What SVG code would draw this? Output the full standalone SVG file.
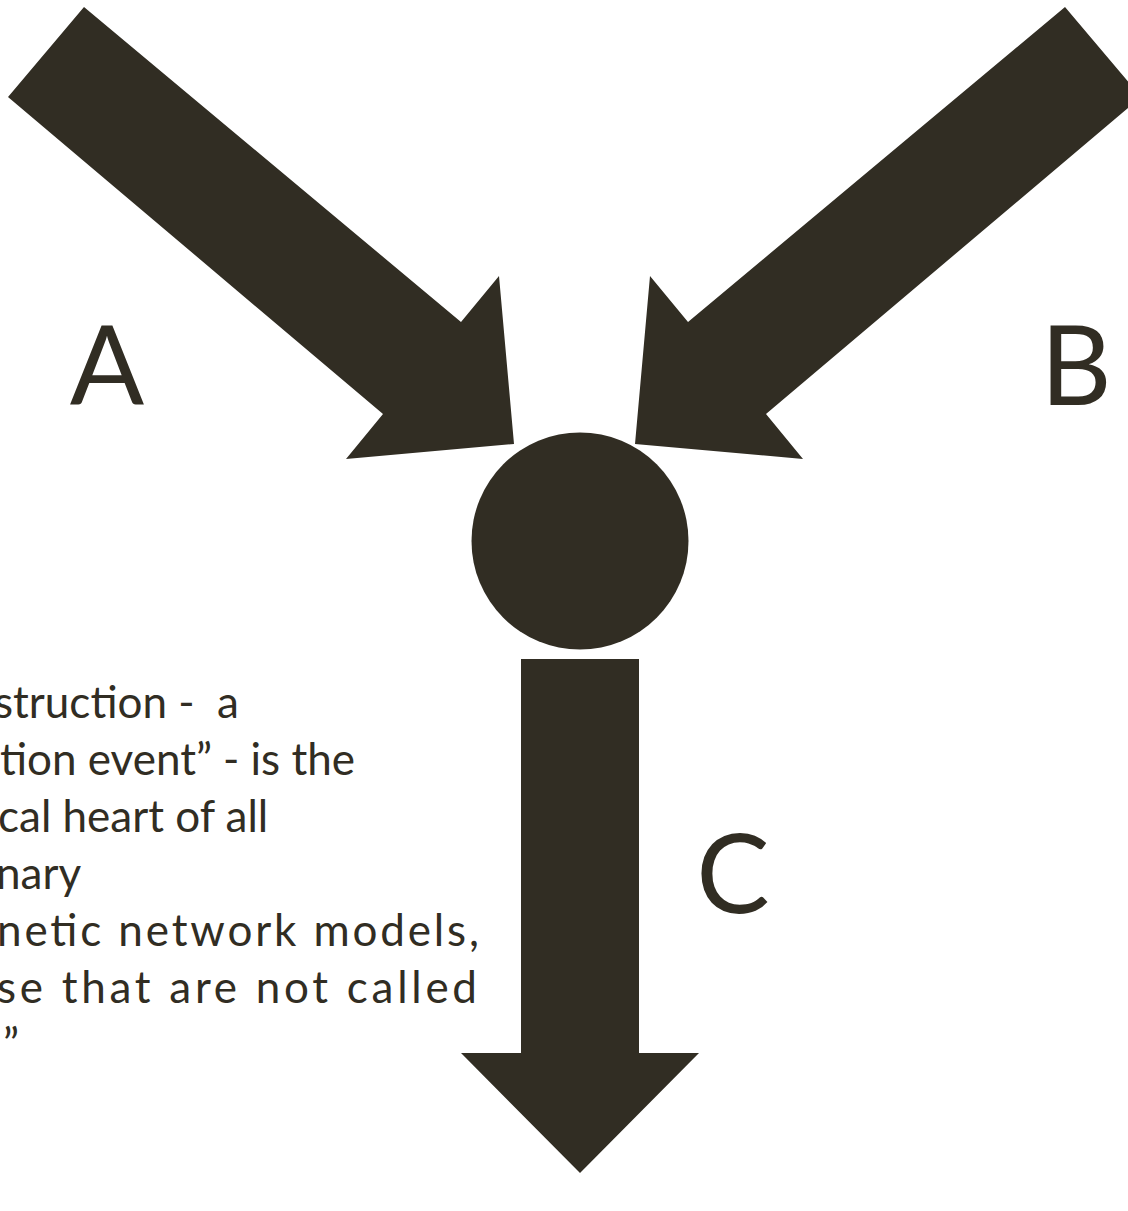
<svg xmlns="http://www.w3.org/2000/svg" width="1128" height="1211" viewBox="0 0 1128 1211">
  <style>
    .shape { fill: #312d23; }
    .label { font-family: Lato, "Open Sans", sans-serif; font-size: 110px; fill: #312d23; text-anchor: middle; }
    .para { font-family: Lato, "Open Sans", sans-serif; font-size: 44px; fill: #312d23; white-space: pre; }
  </style>
  <rect width="1128" height="1211" fill="#ffffff"/>
  <g id="connectors">
    <polygon id="arrow-A" class="shape" points="84,7 461,322 499,276 514,444 346,459 383,414 8,97"/>
    <polygon id="arrow-B" class="shape" points="1065,7 688,322 650,276 635,444 803,459 766,414 1141,97"/>
    <polygon id="arrow-C" class="shape" points="521,659 639,659 639,1053 699,1053 580,1173 461,1053 521,1053"/>
    <text class="label" x="107" y="405">A</text>
    <text class="label" x="1076" y="405">B</text>
    <text class="label" x="733" y="913">C</text>
  </g>
  <g id="node-event">
    <circle class="shape" cx="580" cy="541" r="108.5"/>
  </g>
  <g id="description">
    <text class="para" x="-6" y="718" xml:space="preserve">struction -  a</text>
    <text class="para" x="0" y="775">tion event” - is the</text>
    <text class="para" x="-2" y="832">cal heart of all</text>
    <text class="para" x="-4" y="889">nary</text>
    <text class="para" x="-3" y="946" textLength="482" lengthAdjust="spacing">netic network models,</text>
    <text class="para" x="-3" y="1003" textLength="480" lengthAdjust="spacing">se that are not called</text>
    <text class="para" x="3" y="1060">”</text>
  </g>
</svg>
